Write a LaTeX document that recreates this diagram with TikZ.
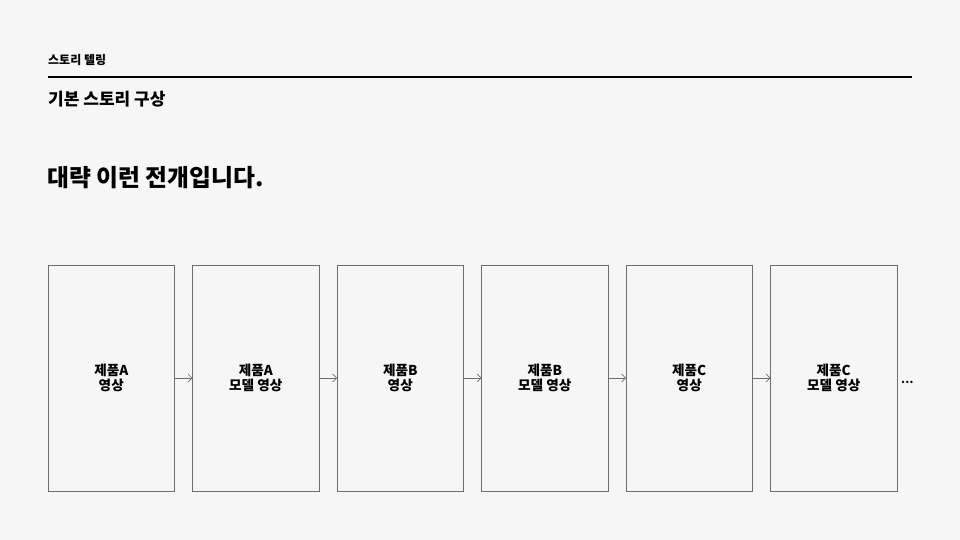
\documentclass[tikz,border=0pt]{standalone}
\usepackage{fontspec}
\setmainfont{Noto Sans CJK KR}
\usepackage{tikz}
\usetikzlibrary{positioning,arrows.meta}

\definecolor{paper}{HTML}{F5F6F5}
\definecolor{frame}{HTML}{6E6E6E}

\tikzset{
  scene/.style={minimum width=126.5pt, minimum height=226pt, inner sep=0pt,
    outer sep=0pt, draw=frame, line width=0.8pt, align=center,
    font=\fontsize{13.6}{15}\selectfont\bfseries},
  flow/.style={draw=frame, line width=0.6pt,
    -{Straight Barb[length=4pt, width=8pt, line width=0.6pt]}},
}

\begin{document}
\begin{tikzpicture}[x=1pt, y=-1pt]
        \fill[paper] (0,0) rectangle (960,540);
        \useasboundingbox (0,0) rectangle (960,540);

        \coordinate (R_1) at (48,77);
        \coordinate (R_2) at (912,77);
        \draw[line width=1.4pt] (R_1) -- (R_2);

        \node[anchor=base west, inner sep=0pt, font=\fontsize{12}{14}\selectfont\bfseries]
            (topic) at (48,65) {스토리 텔링};
        \node[anchor=base west, inner sep=0pt, font=\fontsize{17}{20}\selectfont\bfseries]
            (sub) at (48,106) {기본 스토리 구상};
        \node[anchor=base west, inner sep=0pt, font=\fontsize{23.8}{26}\selectfont\bfseries]
            (title) at (47,186) {대략 이런 전개입니다.};

        \node[scene] (A_1) at (111.25,378) {제품A\\영상};
        \node[scene, right=18pt of A_1] (A_2) {제품A\\모델 영상};
        \node[scene, right=18pt of A_2] (B_1) {제품B\\영상};
        \node[scene, right=18pt of B_1] (B_2) {제품B\\모델 영상};
        \node[scene, right=18pt of B_2] (C_1) {제품C\\영상};
        \node[scene, right=18pt of C_1] (C_2) {제품C\\모델 영상};

        \draw[flow] (A_1) -- (A_2);
        \draw[flow] (A_2) -- (B_1);
        \draw[flow] (B_1) -- (B_2);
        \draw[flow] (B_2) -- (C_1);
        \draw[flow] (C_1) -- (C_2);

        \node[right=4pt of C_2, yshift=-4pt, inner sep=0pt, font=\fontsize{11}{13}\selectfont\bfseries]
            (more) {…};
    \end{tikzpicture}
\end{document}
